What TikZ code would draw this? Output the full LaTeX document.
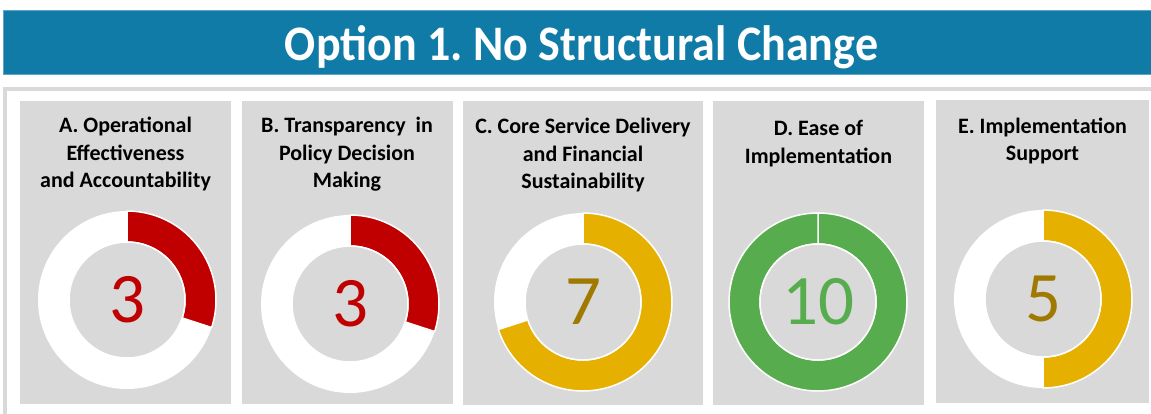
\documentclass[tikz,border=0pt]{standalone}
\usepackage{fontspec}
\setmainfont{Carlito}
\usetikzlibrary{calc}
\frenchspacing
\definecolor{hdrblue}{HTML}{117BA7}
\definecolor{hdredge}{HTML}{5FA4C6}
\definecolor{cardgray}{HTML}{D9D9D9}
\definecolor{framegray}{HTML}{D9D9D9}
\definecolor{ringred}{HTML}{C00000}
\definecolor{ringgold}{HTML}{E6B000}
\definecolor{numgold}{HTML}{A07A00}
\definecolor{ringgreen}{HTML}{57AD4E}
\newcommand\mydonut[7]{%
  \fill[white] (#1,#2) circle[radius=89];
  \filldraw[fill=#4, ring] (#1,#2) ++(90:89) arc[start angle=90, end angle=#3, radius=89]
     -- ($(#1,#2)+(#3:58)$) arc[start angle=#3, end angle=90, radius=58] -- cycle;
  \filldraw[fill=cardgray, ring] (#1,#2) circle[radius=58];
  \node[num, text=#5] (#7) at (#1,#2) {#6};
}
\begin{document}
\begin{tikzpicture}[x=1pt,y=1pt,
  card/.style={fill=cardgray, draw=none},
  ttl/.style={font=\bfseries\fontsize{22}{26}\selectfont, anchor=base, inner sep=0, text=black},
  num/.style={font=\fontsize{71}{80}\selectfont, inner sep=0},
  ring/.style={draw=white, line width=1.5pt}]
\useasboundingbox (0,0) rectangle (1151,-413);
\clip (0,0) rectangle (1151,-413);
\fill[white] (0,0) rectangle (1151,-413);
% header
\fill[hdrblue, draw=hdredge, line width=0.8pt] (3,-10) rectangle (1170,-74);
\node[font=\bfseries\fontsize{46}{52}\selectfont, text=white, anchor=base, inner sep=0] (hdr) at (581.5,-60) {\scalebox{1}[1.08]{Option 1. No Structural Change}};
% frame
\draw[framegray, line width=4pt] (5,-89) rectangle (1175,-440);
% cards
\fill[card] (20,-101) rectangle (231,-404);
\fill[card] (242,-101) rectangle (453,-404);
\fill[card] (463,-101) rectangle (703,-405);
\fill[card] (713,-101) rectangle (924,-405);
\fill[card] (936,-100) rectangle (1149,-403);
% titles
\node[ttl] (a1) at (125.5,-132) {A. Operational};
\node[ttl] (a2) at (125.5,-160) {Effectiveness};
\node[ttl] (a3) at (125.5,-187) {and Accountability};
\node[ttl] (b1) at (347,-132) {B. Transparency\ \ in};
\node[ttl] (b2) at (347,-160) {Policy Decision};
\node[ttl] (b3) at (347,-187) {Making};
\node[ttl] (c1) at (583,-133) {C. Core Service Delivery};
\node[ttl] (c2) at (583,-161) {and Financial};
\node[ttl] (c3) at (583,-188) {Sustainability};
\node[ttl] (d1) at (818.5,-135) {D. Ease of};
\node[ttl] (d2) at (818.5,-163) {Implementation};
\node[ttl] (e1) at (1042.5,-133) {E. Implementation};
\node[ttl] (e2) at (1042.5,-160) {Support};
% donuts
\mydonut{127}{-300}{-18}{ringred}{ringred}{3}{na}
\mydonut{350}{-304}{-18}{ringred}{ringred}{3}{nb}
\mydonut{583}{-302}{-162}{ringgold}{numgold}{7}{nc}
\mydonut{818}{-302}{-270}{ringgreen}{ringgreen}{10}{nd}
\mydonut{1043}{-299}{-90}{ringgold}{numgold}{5}{ne}
\end{tikzpicture}
\end{document}
